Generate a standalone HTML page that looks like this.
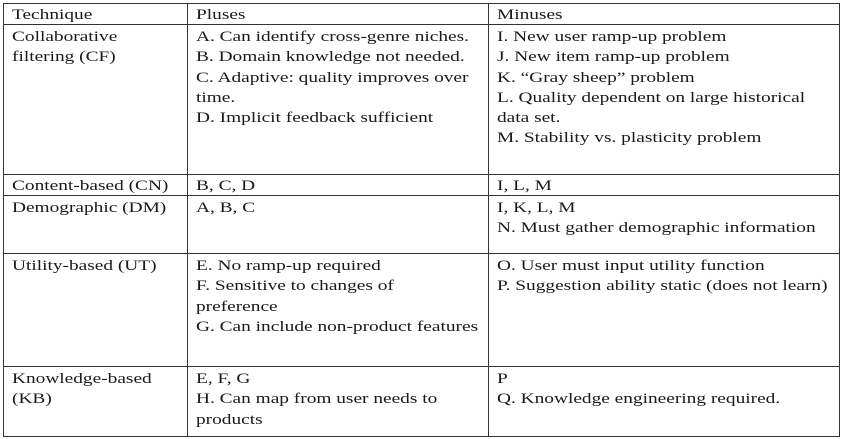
<!DOCTYPE html>
<html><head><meta charset="utf-8"><style>
html,body{margin:0;padding:0;background:#fff;width:845px;height:439px;overflow:hidden}
table{position:absolute;left:3px;top:3px;border-collapse:collapse;table-layout:fixed;width:836px;font-family:"Liberation Serif",serif;font-size:15px;line-height:20.3px;color:#1a1a1a}
td{border:1px solid #333;vertical-align:top;padding:0 8px 0 8px;box-sizing:border-box;overflow:hidden;white-space:nowrap}
td div{transform:translateY(2px) scaleX(1.29);transform-origin:0 0}
tr.s td{line-height:19px}
</style></head><body>
<table>
<colgroup><col style="width:184px"><col style="width:301px"><col style="width:351px"></colgroup>
<tr class="s" style="height:21px"><td><div>Technique</div></td><td><div>Pluses</div></td><td><div>Minuses</div></td></tr>
<tr style="height:150px"><td><div>Collaborative<br>filtering (CF)</div></td><td><div>A. Can identify cross-genre niches.<br>B. Domain knowledge not needed.<br>C. Adaptive: quality improves over<br>time.<br>D. Implicit feedback sufficient</div></td><td><div>I. New user ramp-up problem<br>J. New item ramp-up problem<br>K. “Gray sheep” problem<br>L. Quality dependent on large historical<br>data set.<br>M. Stability vs. plasticity problem</div></td></tr>
<tr class="s" style="height:21px"><td><div>Content-based (CN)</div></td><td><div>B, C, D</div></td><td><div>I, L, M</div></td></tr>
<tr style="height:58px"><td><div>Demographic (DM)</div></td><td><div>A, B, C</div></td><td><div>I, K, L, M<br>N. Must gather demographic information</div></td></tr>
<tr style="height:113px"><td><div>Utility-based (UT)</div></td><td><div>E. No ramp-up required<br>F. Sensitive to changes of<br>preference<br>G. Can include non-product features</div></td><td><div>O. User must input utility function<br>P. Suggestion ability static (does not learn)</div></td></tr>
<tr style="height:70px"><td><div>Knowledge-based<br>(KB)</div></td><td><div>E, F, G<br>H. Can map from user needs to<br>products</div></td><td><div>P<br>Q. Knowledge engineering required.</div></td></tr>
</table>
</body></html>
